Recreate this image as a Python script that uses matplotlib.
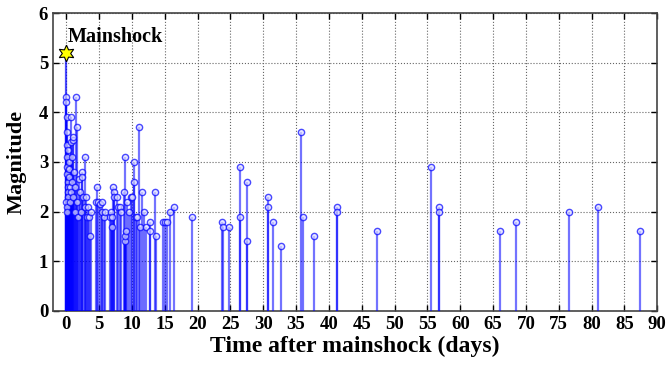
import matplotlib
matplotlib.use('Agg')
import matplotlib.pyplot as plt
import numpy as np

# mainshock
main_day = 0.0
main_mag = 5.2

# aftershocks: time after mainshock (days) and magnitude
days = [0.02, 0.05, 0.08, 0.1, 0.12, 0.15, 0.18, 0.2, 0.22, 0.25, 0.28, 0.3,
        0.05, 0.1, 0.15, 0.35, 0.4, 0.45, 0.5, 0.55, 0.6, 0.7, 0.75, 0.8,
        0.85, 0.9, 1.0, 1.05, 1.1, 1.2, 1.3, 1.4, 1.55, 1.6, 1.7, 1.8,
        2.0, 2.1, 2.2, 2.4, 2.45, 2.6, 2.8, 2.9, 2.95, 3.1, 3.4, 3.55,
        3.65, 3.8, 4.5, 4.67, 4.9, 5.1, 5.4, 5.5, 5.7, 5.94, 6.7, 6.85,
        7.0, 7.0, 7.2, 7.25, 7.3, 7.7, 7.9, 8.2, 8.4, 8.8, 8.9, 9.0,
        9.0, 9.1, 9.3, 9.5, 9.84, 10.0, 10.35, 10.35, 10.6, 10.75, 11.1, 11.2,
        11.5, 11.9, 12.2, 12.7, 12.8, 13.55, 13.7, 14.8, 15.1, 15.3, 15.8, 16.4,
        19.1, 23.7, 23.9, 24.8, 26.5, 26.5, 27.5, 27.55, 30.7, 30.7, 31.5, 32.7,
        35.8, 36.1, 37.7, 41.2, 41.2, 47.3, 55.5, 56.7, 56.7, 66.0, 68.5, 76.5,
        80.9, 87.3]
mags = [4.3, 4.2, 3.9, 3.6, 3.35, 3.1, 2.9, 2.75, 2.6, 2.5, 2.4, 2.3,
        2.2, 2.1, 2.0, 3.25, 2.85, 2.7, 3.0, 2.5, 2.2, 3.9, 3.4, 2.4,
        3.1, 2.6, 3.45, 2.3, 3.5, 2.8, 2.0, 2.5, 4.3, 3.7, 2.2, 1.9,
        2.65, 2.4, 2.0, 2.8, 2.7, 2.3, 2.1, 3.1, 2.3, 1.9, 2.1, 1.9,
        1.5, 2.0, 2.2, 2.5, 2.2, 2.15, 2.2, 2.0, 1.9, 2.0, 1.9, 2.0,
        1.9, 1.7, 2.5, 2.4, 2.3, 2.3, 2.1, 2.1, 2.0, 2.4, 1.4, 3.1,
        1.5, 1.6, 2.2, 2.0, 2.3, 2.3, 3.0, 2.6, 1.9, 1.9, 3.7, 1.7,
        2.4, 2.0, 1.7, 1.6, 1.8, 2.4, 1.5, 1.8, 1.8, 1.8, 2.0, 2.1,
        1.9, 1.8, 1.7, 1.7, 2.9, 1.9, 2.6, 1.4, 2.3, 2.1, 1.8, 1.3,
        3.6, 1.9, 1.5, 2.1, 2.0, 1.6, 2.9, 2.1, 2.0, 1.6, 1.8, 2.0,
        2.1, 1.6]

xticks = np.arange(0, 91, 5)
yticks = np.arange(0, 7, 1)

plt.rcParams['font.family'] = 'Liberation Serif'
plt.rcParams['font.weight'] = 'bold'

fig = plt.figure(figsize=(6.67, 3.75), dpi=100)
ax = fig.add_axes([0.0795, 0.171, 0.906, 0.794])

# aftershock stems
ax.vlines(days, 0, mags, colors='blue', alpha=0.55, linewidth=1.6, zorder=3)
ax.plot(days, mags, 'o', ms=4.5, mfc='#ddddff', mec='blue', mew=1.0, alpha=0.7, zorder=4)

# mainshock stem + star
ax.vlines([main_day], 0, [main_mag], colors='blue', alpha=0.7, linewidth=1.6, zorder=3)
ax.plot([main_day], [main_mag], marker=(6, 1, 0), ms=12, mfc='yellow', mec='black',
        mew=0.8, zorder=5)
ax.text(main_day + 0.3, main_mag + 0.22, 'Mainshock', fontsize=14.5, fontweight='bold')

ax.set_xlim(-2, 90)
ax.set_ylim(0, 6)
ax.set_xticks(xticks)
ax.set_yticks(yticks)
ax.tick_params(direction='in', top=True, right=True, length=4, width=1, labelsize=13.5)
ax.grid(True, linestyle=':', color='#666666', linewidth=0.8)
ax.set_axisbelow(True)
for s in ax.spines.values():
    s.set_color('#444444')
    s.set_linewidth(1.2)

ax.set_xlabel('Time after mainshock (days)', fontsize=17, fontweight='bold', labelpad=2)
ax.set_ylabel('Magnitude', fontsize=16, fontweight='bold', labelpad=9)

fig.savefig('out.png', dpi=100)
